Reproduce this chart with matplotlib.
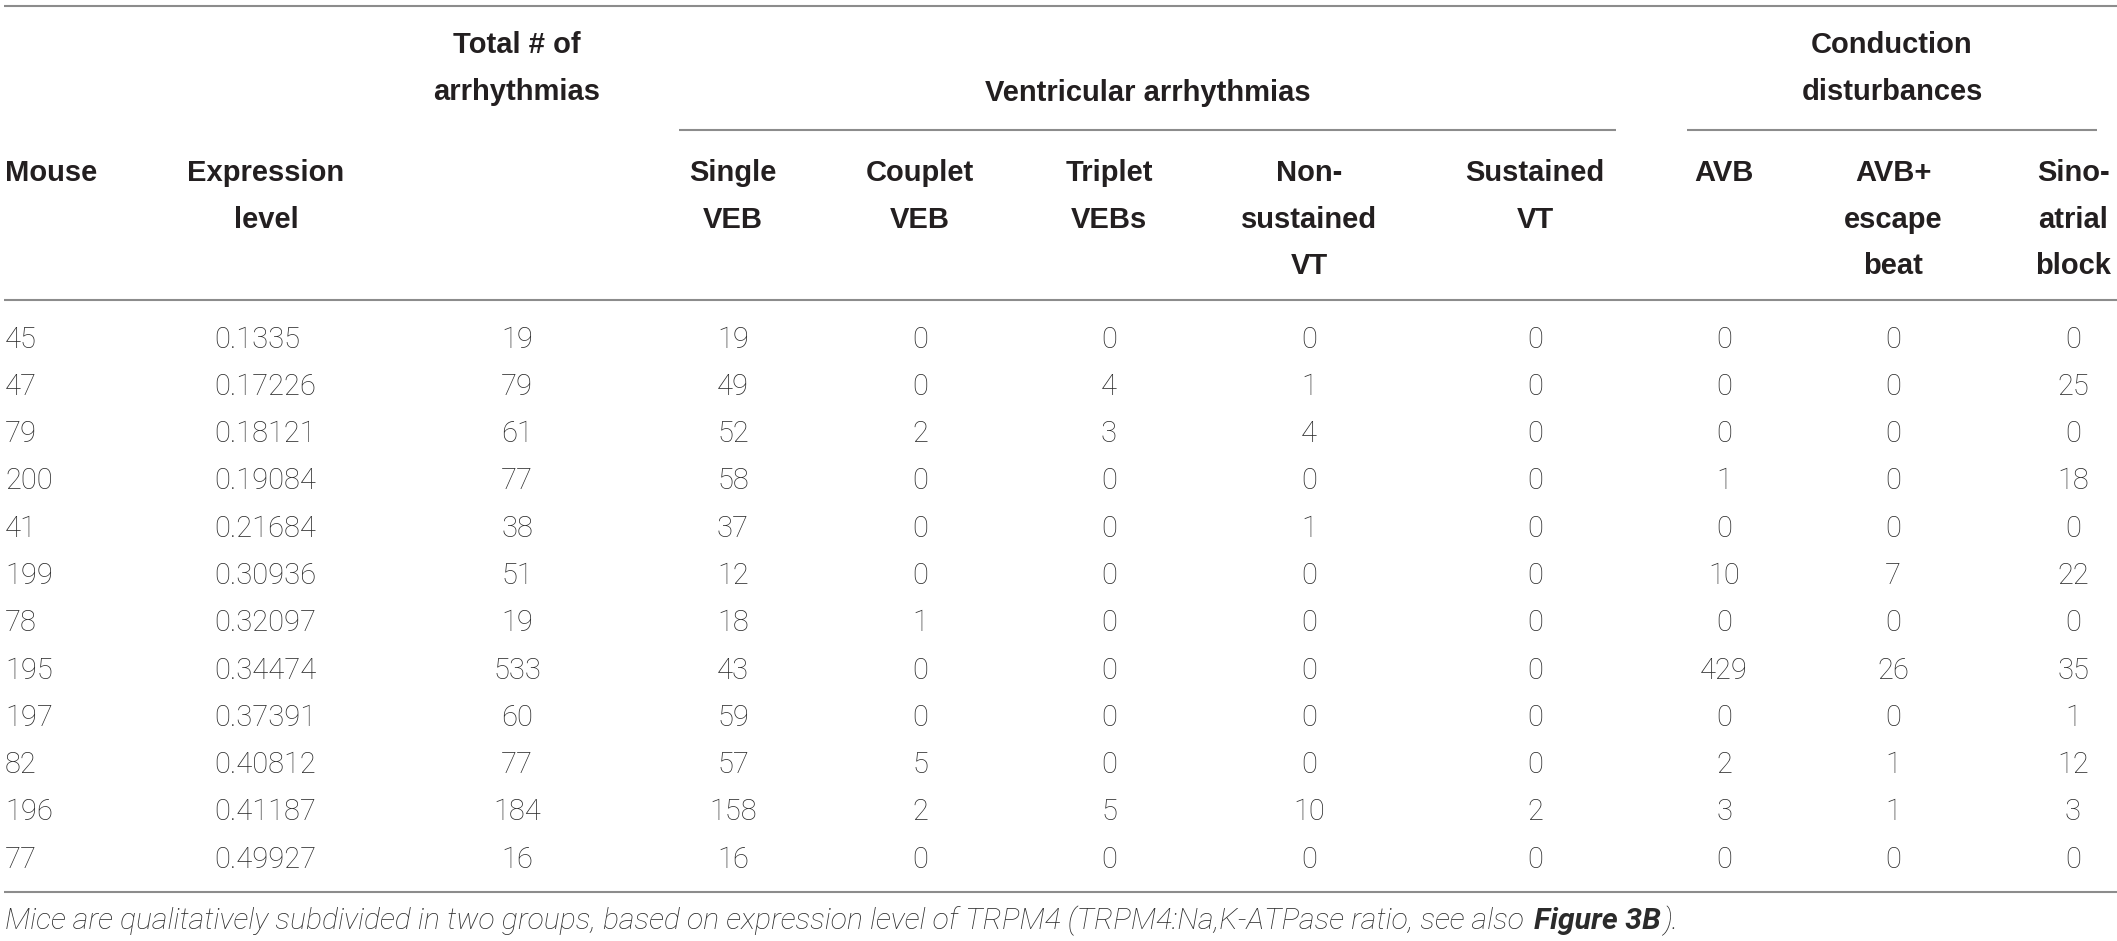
import matplotlib
matplotlib.use("Agg")
import matplotlib.pyplot as plt
from matplotlib import font_manager

# table content
mouse = ["45", "47", "79", "200", "41", "199", "78", "195", "197", "82", "196", "77"]
expression = ["0.1335", "0.17226", "0.18121", "0.19084", "0.21684", "0.30936",
              "0.32097", "0.34474", "0.37391", "0.40812", "0.41187", "0.49927"]
total = [19, 79, 61, 77, 38, 51, 19, 533, 60, 77, 184, 16]
single_veb = [19, 49, 52, 58, 37, 12, 18, 43, 59, 57, 158, 16]
couplet_veb = [0, 0, 2, 0, 0, 0, 1, 0, 0, 5, 2, 0]
triplet_vebs = [0, 4, 3, 0, 0, 0, 0, 0, 0, 0, 5, 0]
nonsustained_vt = [0, 1, 4, 0, 1, 0, 0, 0, 0, 0, 10, 0]
sustained_vt = [0, 0, 0, 0, 0, 0, 0, 0, 0, 0, 2, 0]
avb = [0, 0, 0, 1, 0, 10, 0, 429, 0, 2, 3, 0]
avb_escape = [0, 0, 0, 0, 0, 7, 0, 26, 0, 1, 1, 0]
sinoatrial = [0, 25, 0, 18, 0, 22, 0, 35, 1, 12, 3, 0]

col_headers = ["Mouse", "Expression\nlevel", "Total # of\narrhythmias",
               "Single\nVEB", "Couplet\nVEB", "Triplet\nVEBs", "Non-\nsustained\nVT",
               "Sustained\nVT", "AVB", "AVB+\nescape\nbeat", "Sino-\natrial\nblock"]
group_headers = ["Ventricular arrhythmias", "Conduction\ndisturbances"]
caption = "Mice are qualitatively subdivided in two groups, based on expression level of TRPM4 (TRPM4:Na,K-ATPase ratio, see also "
caption_bold = "Figure 3B"
caption_end = ")."

installed = {f.name for f in font_manager.fontManager.ttflist}
head_font = "Liberation Sans" if "Liberation Sans" in installed else "DejaVu Sans"
body_font = "Roboto" if "Roboto" in installed else "DejaVu Sans"

W, H = 2117, 941
fig = plt.figure(figsize=(W / 100, H / 100), dpi=100)
ax = fig.add_axes([0, 0, 1, 1])
ax.set_xlim(0, W)
ax.set_ylim(H, 0)
ax.axis("off")

txt = "#231f20"
body_c = "#2b2b2b"
line_c = "#8c8c8c"

# layout (pixels)
col_x = [5, 266, 517, 733, 920, 1109, 1309, 1535, 1724, 1893, 2073]
expr_left = 214
row0, row_step = 337, 47.3
hdr_y = 170
gap = 47
cap_half = 10.5   # half of cap/digit height, to sit text on its baseline

# rules
for x0, x1, y in [(4, W, 6), (679, 1616, 130), (1687, 2097, 130), (4, W, 300), (4, W, 892)]:
    ax.plot([x0, x1], [y, y], color=line_c, lw=1.5, solid_capstyle="butt")

hkw = dict(family=head_font, fontsize=21, fontweight="bold", color=txt, va="baseline")


def header(x, y_first, label, ha="center"):
    for k, part in enumerate(label.split("\n")):
        ax.text(x, y_first + k * gap + cap_half, part, ha=ha, **hkw)


# spanning headers
header(col_x[2], 42, col_headers[2])
header((679 + 1616) / 2, 90, group_headers[0])
header(1892, 42, group_headers[1])

# column headers
for i, h in enumerate(col_headers):
    if i == 2:
        continue
    header(col_x[i], hdr_y, h, ha="left" if i == 0 else "center")

# body
dkw = dict(family=body_font, fontsize=21, fontweight="light", color=body_c, va="baseline")
columns = [total, single_veb, couplet_veb, triplet_vebs, nonsustained_vt,
           sustained_vt, avb, avb_escape, sinoatrial]
for r in range(len(mouse)):
    y = row0 + r * row_step + cap_half
    ax.text(col_x[0], y, mouse[r], ha="left", **dkw)
    ax.text(expr_left, y, expression[r], ha="left", **dkw)
    for c, vals in enumerate(columns):
        ax.text(col_x[c + 2], y, str(vals[r]), ha="center", **dkw)


# caption, sized so that it ends where the reference does
def draw_caption(size):
    kw = dict(family=body_font, fontsize=size, style="italic", color=body_c, va="baseline")
    y = 929
    x = 5
    items = []
    for s, wgt in [(caption, "light"), (caption_bold, "bold"), (caption_end, "light")]:
        t = ax.text(x, y, s, fontweight=wgt, **kw)
        items.append(t)
        fig.canvas.draw()
        bb = t.get_window_extent()
        x = ax.transData.inverted().transform((bb.x1, 0))[0] + 3
    return items, x


items, x_end = draw_caption(20)
for t in items:
    t.remove()
size = 20 * (1685 - 5) / (x_end - 5)
draw_caption(size)

fig.savefig("out.png", dpi=100)
